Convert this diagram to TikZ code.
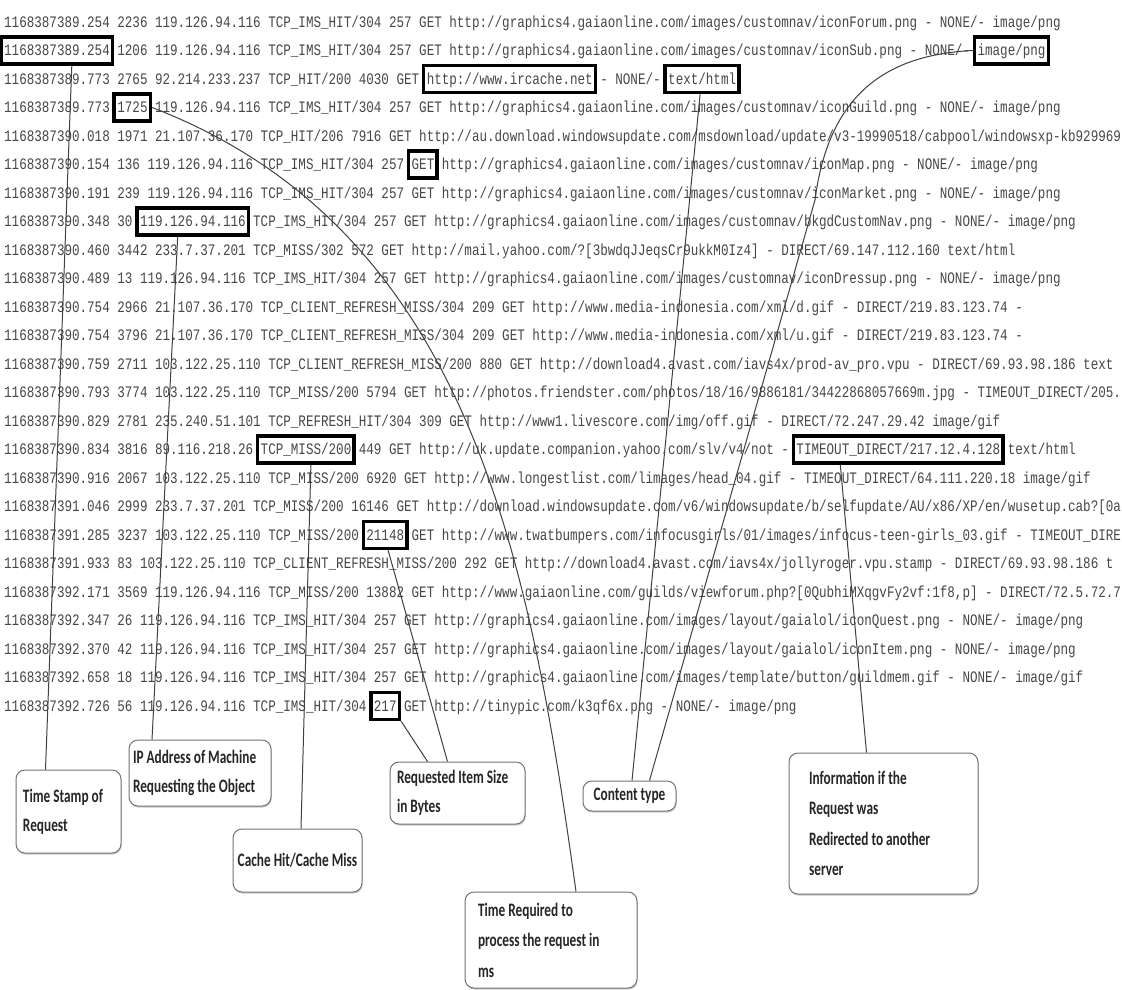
\documentclass[tikz,border=0pt]{standalone}
\usepackage{fontspec}
\newfontfamily\logfont[FakeStretch=0.786]{Liberation Mono}
\newfontfamily\annfont[FakeStretch=0.7]{Carlito}
\usetikzlibrary{shadows}
\tikzset{
  logline/.style={anchor=base west, inner sep=0pt, font=\logfont\fontsize{16}{16}\selectfont, text=black!72},
  hl/.style={draw=black, line width=3.5pt, minimum height=27pt, inner sep=0pt},
  conn/.style={draw=black!75, line width=1pt},
  annot/.style={draw=black!55, line width=1pt, rounded corners=9pt, fill=white,
    font=\annfont\bfseries\fontsize{19}{29}\selectfont, text=black!85, align=flush left,
    drop shadow={shadow xshift=0.6pt, shadow yshift=-1.6pt, fill=black!35, opacity=0.6}},
}
\begin{document}
\begin{tikzpicture}[x=1pt,y=-1pt]
\useasboundingbox (0,0) rectangle (1122,989);
\fill[white] (0,0) rectangle (1122,989);
\begin{scope}
\clip (0,0) rectangle (1122,989);
% log lines
\node[logline] (l1) at (4,27) {1168387389.254 2236 119.126.94.116 TCP\_IMS\_HIT/304 257 GET http://graphics4.gaiaonline.com/images/customnav/iconForum.png - NONE/- image/png};
\node[logline] (l2) at (4,55.5) {1168387389.254 1206 119.126.94.116 TCP\_IMS\_HIT/304 257 GET http://graphics4.gaiaonline.com/images/customnav/iconSub.png - NONE/- image/png};
\node[logline] (l3) at (4,84) {1168387389.773 2765 92.214.233.237 TCP\_HIT/200 4030 GET http://www.ircache.net - NONE/- text/html};
\node[logline] (l4) at (4,112.5) {1168387389.773 1725 119.126.94.116 TCP\_IMS\_HIT/304 257 GET http://graphics4.gaiaonline.com/images/customnav/iconGuild.png - NONE/- image/png};
\node[logline] (l5) at (4,141) {1168387390.018 1971 21.107.36.170 TCP\_HIT/206 7916 GET http://au.download.windowsupdate.com/msdownload/update/v3-19990518/cabpool/windowsxp-kb929969};
\node[logline] (l6) at (4,169.5) {1168387390.154 136 119.126.94.116 TCP\_IMS\_HIT/304 257 GET http://graphics4.gaiaonline.com/images/customnav/iconMap.png - NONE/- image/png};
\node[logline] (l7) at (4,198) {1168387390.191 239 119.126.94.116 TCP\_IMS\_HIT/304 257 GET http://graphics4.gaiaonline.com/images/customnav/iconMarket.png - NONE/- image/png};
\node[logline] (l8) at (4,226.5) {1168387390.348 30 119.126.94.116 TCP\_IMS\_HIT/304 257 GET http://graphics4.gaiaonline.com/images/customnav/bkgdCustomNav.png - NONE/- image/png};
\node[logline] (l9) at (4,255) {1168387390.460 3442 233.7.37.201 TCP\_MISS/302 572 GET http://mail.yahoo.com/?[3bwdqJJeqsCr9ukkM0Iz4] - DIRECT/69.147.112.160 text/html};
\node[logline] (l10) at (4,283.5) {1168387390.489 13 119.126.94.116 TCP\_IMS\_HIT/304 257 GET http://graphics4.gaiaonline.com/images/customnav/iconDressup.png - NONE/- image/png};
\node[logline] (l11) at (4,312) {1168387390.754 2966 21.107.36.170 TCP\_CLIENT\_REFRESH\_MISS/304 209 GET http://www.media-indonesia.com/xml/d.gif - DIRECT/219.83.123.74 -};
\node[logline] (l12) at (4,340.5) {1168387390.754 3796 21.107.36.170 TCP\_CLIENT\_REFRESH\_MISS/304 209 GET http://www.media-indonesia.com/xml/u.gif - DIRECT/219.83.123.74 -};
\node[logline] (l13) at (4,369) {1168387390.759 2711 103.122.25.110 TCP\_CLIENT\_REFRESH\_MISS/200 880 GET http://download4.avast.com/iavs4x/prod-av\_pro.vpu - DIRECT/69.93.98.186 text};
\node[logline] (l14) at (4,397.5) {1168387390.793 3774 103.122.25.110 TCP\_MISS/200 5794 GET http://photos.friendster.com/photos/18/16/9886181/34422868057669m.jpg - TIMEOUT\_DIRECT/205.};
\node[logline] (l15) at (4,426) {1168387390.829 2781 235.240.51.101 TCP\_REFRESH\_HIT/304 309 GET http://www1.livescore.com/img/off.gif - DIRECT/72.247.29.42 image/gif};
\node[logline] (l16) at (4,454.5) {1168387390.834 3816 89.116.218.26 TCP\_MISS/200 449 GET http://uk.update.companion.yahoo.com/slv/v4/not - TIMEOUT\_DIRECT/217.12.4.128 text/html};
\node[logline] (l17) at (4,483) {1168387390.916 2067 103.122.25.110 TCP\_MISS/200 6920 GET http://www.longestlist.com/limages/head\_04.gif - TIMEOUT\_DIRECT/64.111.220.18 image/gif};
\node[logline] (l18) at (4,511.5) {1168387391.046 2999 233.7.37.201 TCP\_MISS/200 16146 GET http://download.windowsupdate.com/v6/windowsupdate/b/selfupdate/AU/x86/XP/en/wusetup.cab?[0a};
\node[logline] (l19) at (4,540) {1168387391.285 3237 103.122.25.110 TCP\_MISS/200 21148 GET http://www.twatbumpers.com/infocusgirls/01/images/infocus-teen-girls\_03.gif - TIMEOUT\_DIRE};
\node[logline] (l20) at (4,568.5) {1168387391.933 83 103.122.25.110 TCP\_CLIENT\_REFRESH\_MISS/200 292 GET http://download4.avast.com/iavs4x/jollyroger.vpu.stamp - DIRECT/69.93.98.186 t};
\node[logline] (l21) at (4,597) {1168387392.171 3569 119.126.94.116 TCP\_MISS/200 13882 GET http://www.gaiaonline.com/guilds/viewforum.php?[0QubhiMXqgvFy2vf:1f8,p] - DIRECT/72.5.72.7};
\node[logline] (l22) at (4,625.5) {1168387392.347 26 119.126.94.116 TCP\_IMS\_HIT/304 257 GET http://graphics4.gaiaonline.com/images/layout/gaialol/iconQuest.png - NONE/- image/png};
\node[logline] (l23) at (4,654) {1168387392.370 42 119.126.94.116 TCP\_IMS\_HIT/304 257 GET http://graphics4.gaiaonline.com/images/layout/gaialol/iconItem.png - NONE/- image/png};
\node[logline] (l24) at (4,682.5) {1168387392.658 18 119.126.94.116 TCP\_IMS\_HIT/304 257 GET http://graphics4.gaiaonline.com/images/template/button/guildmem.gif - NONE/- image/gif};
\node[logline] (l25) at (4,711) {1168387392.726 56 119.126.94.116 TCP\_IMS\_HIT/304 217 GET http://tinypic.com/k3qf6x.png - NONE/- image/png};
% highlight boxes
\node[hl, minimum width=111.7pt] (hts) at (56.8,50.5) {};
\node[hl, minimum width=73.9pt] (himg) at (1011.5,50.5) {};
\node[hl, minimum width=172pt] (hurl) at (509.6,79) {};
\node[hl, minimum width=73.9pt] (htext) at (702.1,79) {};
\node[hl, minimum width=36.2pt] (h1725) at (132.3,107.5) {};
\node[hl, minimum width=28.6pt] (hget) at (422.9,164.5) {};
\node[hl, minimum width=111.7pt] (hip) at (192.7,221.5) {};
\node[hl, minimum width=96.6pt] (hmiss) at (305.9,449.5) {};
\node[hl, minimum width=209.8pt] (htimeout) at (898.3,449.5) {};
\node[hl, minimum width=43.7pt] (h21148) at (385.1,535) {};
\node[hl, minimum width=28.6pt] (h217) at (385.1,706) {};
% annotation boxes
\node[annot, minimum width=105pt, minimum height=83pt, text width=91pt, inner xsep=7pt] (ts) at (68.5,811.5) {Time Stamp of\\Request};
\node[annot, minimum width=142pt, minimum height=66pt, text width=134pt, inner xsep=4pt] (ip) at (200,773) {IP Address of Machine\\Requesting the Object};
\node[annot, minimum width=129pt, minimum height=63pt, align=center, inner xsep=2pt] (cache) at (297.5,860.5) {Cache Hit/Cache Miss};
\node[annot, minimum width=135pt, minimum height=62pt, text width=121pt, inner xsep=7pt] (size) at (457.5,793) {Requested Item Size\\in Bytes};
\node[annot, minimum width=93pt, minimum height=30pt, align=center, inner xsep=2pt, inner ysep=1pt] (ct) at (629.5,796) {Content type};
\node[annot, minimum width=189pt, minimum height=141pt, text width=149pt, inner xsep=20pt, font=\annfont\bfseries\fontsize{19}{30.5}\selectfont] (info) at (883.5,823.5) {Information if the\\Request was\\Redirected to another\\server};
\node[annot, minimum width=172pt, minimum height=96pt, text width=146pt, inner xsep=13pt, font=\annfont\bfseries\fontsize{19}{30.5}\selectfont] (treq) at (551,940) {Time Required to\\process the request in\\ms};
% connectors
\draw[conn] ([xshift=15pt]hts.south) -- ([xshift=-23pt]ts.north);
\draw[conn] ([xshift=-15pt]hip.south) -- ([xshift=-48pt]ip.north);
\draw[conn] ([xshift=5pt]hmiss.south) -- ([xshift=3.5pt]cache.north);
\draw[conn] (h1725.east) .. controls (470,230) and (530,560) .. ([xshift=25pt]treq.north);
\draw[conn] ([xshift=3pt]h21148.south) -- ([xshift=-10pt]size.north);
\draw[conn] (h217.south east) -- ([xshift=-30pt]size.north);
\draw[conn] ([xshift=-2pt]htext.south) -- ([xshift=2.5pt]ct.north);
\draw[conn] (himg.west) .. controls (880,55) and (828,100) .. (815,200) -- ([xshift=20pt]ct.north);
\draw[conn] ([xshift=-58pt]htimeout.south) -- ([xshift=-17pt]info.north);
\end{scope}
\end{tikzpicture}
\end{document}
